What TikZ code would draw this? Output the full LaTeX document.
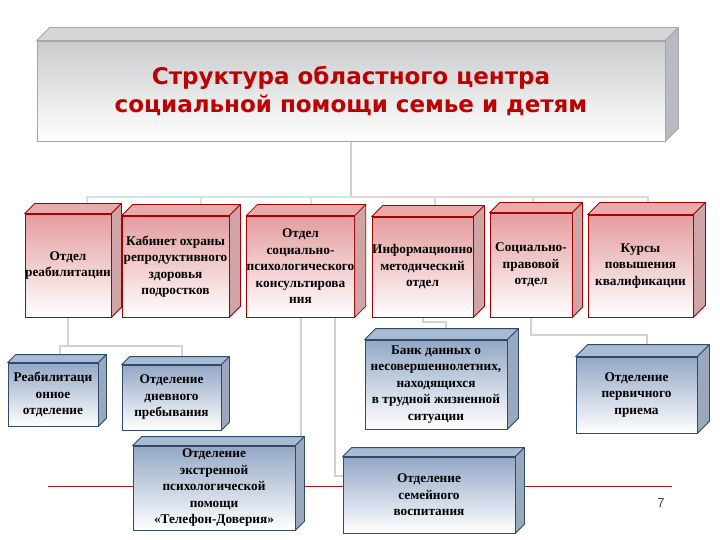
\documentclass[tikz,border=0pt]{standalone}
\usepackage{fontspec}
\setmainfont{Liberation Serif}
\newfontfamily\titlefont{DejaVu Sans}
\usetikzlibrary{calc}
\pgfdeclarelayer{bg}
\pgfdeclarelayer{paper}
\pgfsetlayers{paper,bg,main}
\definecolor{pinkF}{HTML}{E49C9E}
\definecolor{pinkT}{HTML}{E9AAAA}
\definecolor{pinkS}{HTML}{CFA4A6}
\definecolor{pinkB}{HTML}{A80000}
\definecolor{blueF}{HTML}{93A8C6}
\definecolor{blueT}{HTML}{A9BBD3}
\definecolor{blueS}{HTML}{98A8BD}
\definecolor{blueB}{HTML}{2F4A6A}
\definecolor{greyF}{HTML}{CACBCD}
\definecolor{greyT}{HTML}{D6D6D8}
\definecolor{greyS}{HTML}{B7BBC4}
\definecolor{greyB}{HTML}{A6A6A6}
\definecolor{titleR}{HTML}{BE0000}
\definecolor{connC}{HTML}{D2D2D2}
\definecolor{connCy}{HTML}{CDE4E8}
\definecolor{connPk}{HTML}{E4D4D6}
\definecolor{lineR}{HTML}{B01818}
\tikzset{
  x=1pt, y=-1pt,
  box/.style={rectangle, draw, line width=0.8pt, inner sep=0pt, align=center,
    font=\bfseries\fontsize{13.3}{16.5}\selectfont},
  pinkbox/.style={box, draw=pinkB, top color=pinkF, bottom color=white},
  pinkbox-top/.style={fill=pinkT, draw=pinkB, line width=0.8pt, line join=round},
  pinkbox-side/.style={fill=pinkS, draw=pinkB, line width=0.8pt, line join=round},
  bluebox/.style={box, draw=blueB, top color=blueF, bottom color=white},
  bluebox-top/.style={fill=blueT, draw=blueB, line width=0.8pt, line join=round},
  bluebox-side/.style={fill=blueS, draw=blueB, line width=0.8pt, line join=round},
  titlebox/.style={box, draw=greyB, top color=greyF, bottom color=white,
    text=titleR, font=\titlefont\bfseries\fontsize{23}{28}\selectfont},
  titlebox-top/.style={fill=greyT, draw=greyB, line width=0.8pt, line join=round},
  titlebox-side/.style={fill=greyS, draw=greyB, line width=0.8pt, line join=round},
  conn/.style={draw=connC, line width=2pt},
  conncy/.style={draw=connCy, line width=2pt},
  connpk/.style={draw=connPk, line width=2pt},
  redline/.style={draw=lineR, line width=0.9pt},
  pagenum/.style={font=\fontspec{Liberation Sans}\fontsize{13}{13}\selectfont, text=black!75},
}
\newcommand\mkbox[8]{%
  \node[#2, minimum width={(#5-#3)*1pt}, minimum height={(#6-#4)*1pt}] (#1) at ({(#3+#5)/2},{(#4+#6)/2}) {#8};
  \path[#2-top] (#1.north west) -- ++(#7,-#7) -- ([shift={(#7pt,#7pt)}]#1.north east) -- (#1.north east) -- cycle;
  \path[#2-side] (#1.north east) -- ([shift={(#7pt,#7pt)}]#1.north east) -- ([shift={(#7pt,#7pt)}]#1.south east) -- (#1.south east) -- cycle;
}
\begin{document}
\begin{tikzpicture}
\begin{pgfonlayer}{paper}
\fill[white] (0,0) rectangle (720,540);
\end{pgfonlayer}
\useasboundingbox (0,0) rectangle (720,540);
% title
\mkbox{title}{titlebox}{37}{41}{665}{141}{13}{Структура областного центра\\социальной помощи семье и детям}
% first row
\mkbox{P1}{pinkbox}{25}{214}{111}{317}{10}{Отдел\\реабилитации}
\mkbox{P2}{pinkbox}{122}{216}{229}{317}{11}{Кабинет охраны\\репродуктивного\\здоровья\\подростков}
\mkbox{P3}{pinkbox}{247}{216}{354}{317}{11}{Отдел\\социально-\\психологического\\консультирова\\ния}
\mkbox{P4}{pinkbox}{372}{217}{473}{317}{11}{Информационно\\методический\\отдел}
\mkbox{P5}{pinkbox}{490}{213}{572}{317}{10}{Социально-\\правовой\\отдел}
\mkbox{P6}{pinkbox}{588}{215}{693}{317}{12}{Курсы\\повышения\\квалификации}
% second row
\mkbox{B1}{bluebox}{8}{363}{98}{426}{8}{Реабилитаци\\онное\\отделение}
\mkbox{B2}{bluebox}{122}{365}{221}{430}{8}{Отделение\\дневного\\пребывания}
\mkbox{B3}{bluebox}{133}{446}{295}{530}{9}{Отделение\\экстренной\\психологической\\помощи\\«Телефон-Доверия»}
\mkbox{B4}{bluebox}{365}{340}{507}{429}{11}{Банк данных о\\несовершеннолетних,\\находящихся\\в трудной жизненной\\ситуации}
\mkbox{B5}{bluebox}{576}{357}{697}{433}{12}{Отделение\\первичного\\приема}
\mkbox{B6}{bluebox}{343}{457}{515}{533}{9}{Отделение\\семейного\\воспитания}
\node[pagenum] (pg) at (661,503) {7};
% connectors
\begin{pgfonlayer}{bg}
\coordinate (bus) at ($(title.south)+(0,56)$);
\draw[conn] (title.south) -- (bus);
\draw[conncy] ($(P1.north)+(19,0)$) |- (bus);
\draw[conncy] ($(P2.north)+(25,0)$) |- (bus);
\draw[conncy] ($(P3.north)+(10,0)$) |- (bus);
\draw[connpk] ($(P4.north)+(12,0)$) |- (bus);
\draw[connpk] ($(P5.north)+(2,0)$) |- (bus);
\draw[connpk] ($(P6.north)+(7,0)$) |- (bus);
\coordinate (j1) at ($(P1.south)+(0,29)$);
\draw[conn] (P1.south) -- (j1);
\draw[conn] ($(B1.north)+(7,0)$) |- (j1) -| ($(B2.north)+(10,0)$);
\draw[conn] (P3.south) -- (P3.south |- B3.north);
\draw[conn] ($(P3.south)+(34,0)$) |- ($(B6.north west)+(0,19)$);
\draw[conn] (P4.south) -- ++(0,5) -| ($(B4.north)+(10,0)$);
\draw[conn] (P5.south) -- ++(0,18) -| ($(B5.north)+(10,0)$);
\coordinate (rl1) at (48,486);
\coordinate (rl2) at (672,486);
\draw[redline] (rl1) -- (rl2);
\end{pgfonlayer}
\end{tikzpicture}
\end{document}
